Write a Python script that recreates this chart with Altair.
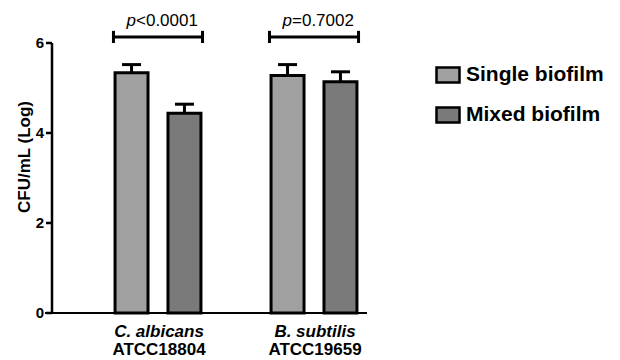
import altair as alt
import pandas as pd

categories = ["C. albicans", "B. subtilis"]
strains = ["ATCC18804", "ATCC19659"]
groups = ["Single biofilm", "Mixed biofilm"]
single_mean = [5.34, 5.28]
single_err = [0.18, 0.24]
mixed_mean = [4.44, 5.14]
mixed_err = [0.20, 0.22]
p_values = ["<0.0001", "=0.7002"]
y_ticks = [0, 2, 4, 6]

rows = []
for i, c in enumerate(categories):
    rows.append({"cat": c, "group": groups[0], "mean": single_mean[i], "top": single_mean[i] + single_err[i]})
    rows.append({"cat": c, "group": groups[1], "mean": mixed_mean[i], "top": mixed_mean[i] + mixed_err[i]})
bars_df = pd.DataFrame(rows)
cat_df = pd.DataFrame({"cat": categories, "strain": strains, "p": p_values})

FONT = "Liberation Sans"
xs = alt.Scale(domain=categories, paddingInner=0.429, paddingOuter=0.394)
xo = alt.Scale(domain=groups, paddingInner=0.377, paddingOuter=0.03)
ys = alt.Scale(domain=[0, 6], nice=False, zero=True)

yaxis = alt.Axis(
    values=y_ticks, grid=False, translate=0,
    domainColor="black", domainWidth=2.5, tickColor="black", tickWidth=2.5,
    tickSize=6, labelPadding=2, labelFont=FONT, labelFontSize=15,
    labelFontWeight="bold", labelColor="black",
    title="CFU/mL (Log)", titleX=-27, titleY=114,
    titleAngle=-90, titleAlign="center", titleBaseline="middle",
    titleFont=FONT, titleFontSize=17, titleFontWeight="bold", titleColor="black",
)


def ydat(v):
    return alt.YDatum(v, type="quantitative", scale=ys)


def xcat(**kw):
    return alt.X("cat:N", scale=xs, axis=None, sort=categories, **kw)


base = alt.Chart(bars_df)

bars = base.mark_bar(stroke="black", strokeWidth=3).encode(
    x=xcat(),
    xOffset=alt.XOffset("group:N", scale=xo, sort=groups),
    y=alt.Y("mean:Q", scale=ys, axis=yaxis),
    color=alt.Color(
        "group:N",
        scale=alt.Scale(domain=groups, range=["#a0a0a0", "#7a7a7a"]),
        legend=alt.Legend(
            title=None, orient="none", legendX=383, legendY=19,
            symbolType="M-1,-0.65H1V0.65H-1Z", symbolSize=529,
            symbolStrokeColor="black", symbolStrokeWidth=2.5, symbolOpacity=1,
            labelFont=FONT, labelFontSize=21, labelFontWeight="bold",
            labelColor="black", labelOffset=5, rowPadding=14, padding=0,
            labelLimit=300,
        ),
    ),
)

err = base.mark_rule(color="black", strokeWidth=3).encode(
    x=xcat(),
    xOffset=alt.XOffset("group:N", scale=xo, sort=groups),
    y=alt.Y("mean:Q", scale=ys),
    y2="top:Q",
)

caps = base.mark_tick(color="black", thickness=3, size=19, opacity=1).encode(
    x=xcat(),
    xOffset=alt.XOffset("group:N", scale=xo, sort=groups),
    y=alt.Y("top:Q", scale=ys),
)

cbase = alt.Chart(cat_df)

bracket = cbase.mark_bar(color="black").encode(
    x=xcat(), y=ydat(6.1), y2=alt.Y2Datum(6.167),
)
end_l = cbase.mark_rule(color="black", strokeWidth=3).encode(
    x=xcat(bandPosition=0), y=ydat(6.0), y2=alt.Y2Datum(6.27),
)
end_r = cbase.mark_rule(color="black", strokeWidth=3).encode(
    x=xcat(bandPosition=1), y=ydat(6.0), y2=alt.Y2Datum(6.27),
)

p_ital = cbase.mark_text(font=FONT, fontSize=17, fontStyle="italic", align="right",
                         baseline="middle", dx=-22, color="black").encode(
    x=xcat(), y=ydat(6.49), text=alt.value("p"),
)
p_rest = cbase.mark_text(font=FONT, fontSize=17, align="left",
                         baseline="middle", dx=-22, color="black").encode(
    x=xcat(), y=ydat(6.49), text="p:N",
)

lab1 = cbase.mark_text(font=FONT, fontSize=17, fontStyle="italic", fontWeight="bold",
                       baseline="middle", color="black", dx=1).encode(
    x=xcat(), y=alt.value(289), text="cat:N",
)
lab2 = cbase.mark_text(font=FONT, fontSize=17, fontWeight="bold",
                       baseline="middle", color="black", dx=1).encode(
    x=xcat(), y=alt.value(307), text="strain:N",
)

xaxis_line = cbase.mark_rule(color="black", strokeWidth=2).encode(
    x=alt.value(-7), x2=alt.value(315), y=alt.value(270),
)

chart = alt.layer(
    bars, err, caps, bracket, end_l, end_r, p_ital, p_rest, lab1, lab2, xaxis_line
).properties(
    width=368, height=270,
    background="white",
    autosize=alt.AutoSizeParams(type="none"),
    padding={"left": 44, "top": 35, "right": 192, "bottom": 46},
).configure_view(stroke=None, strokeWidth=0)

chart.save("out.html", embed_options={"renderer": "svg", "actions": False})
